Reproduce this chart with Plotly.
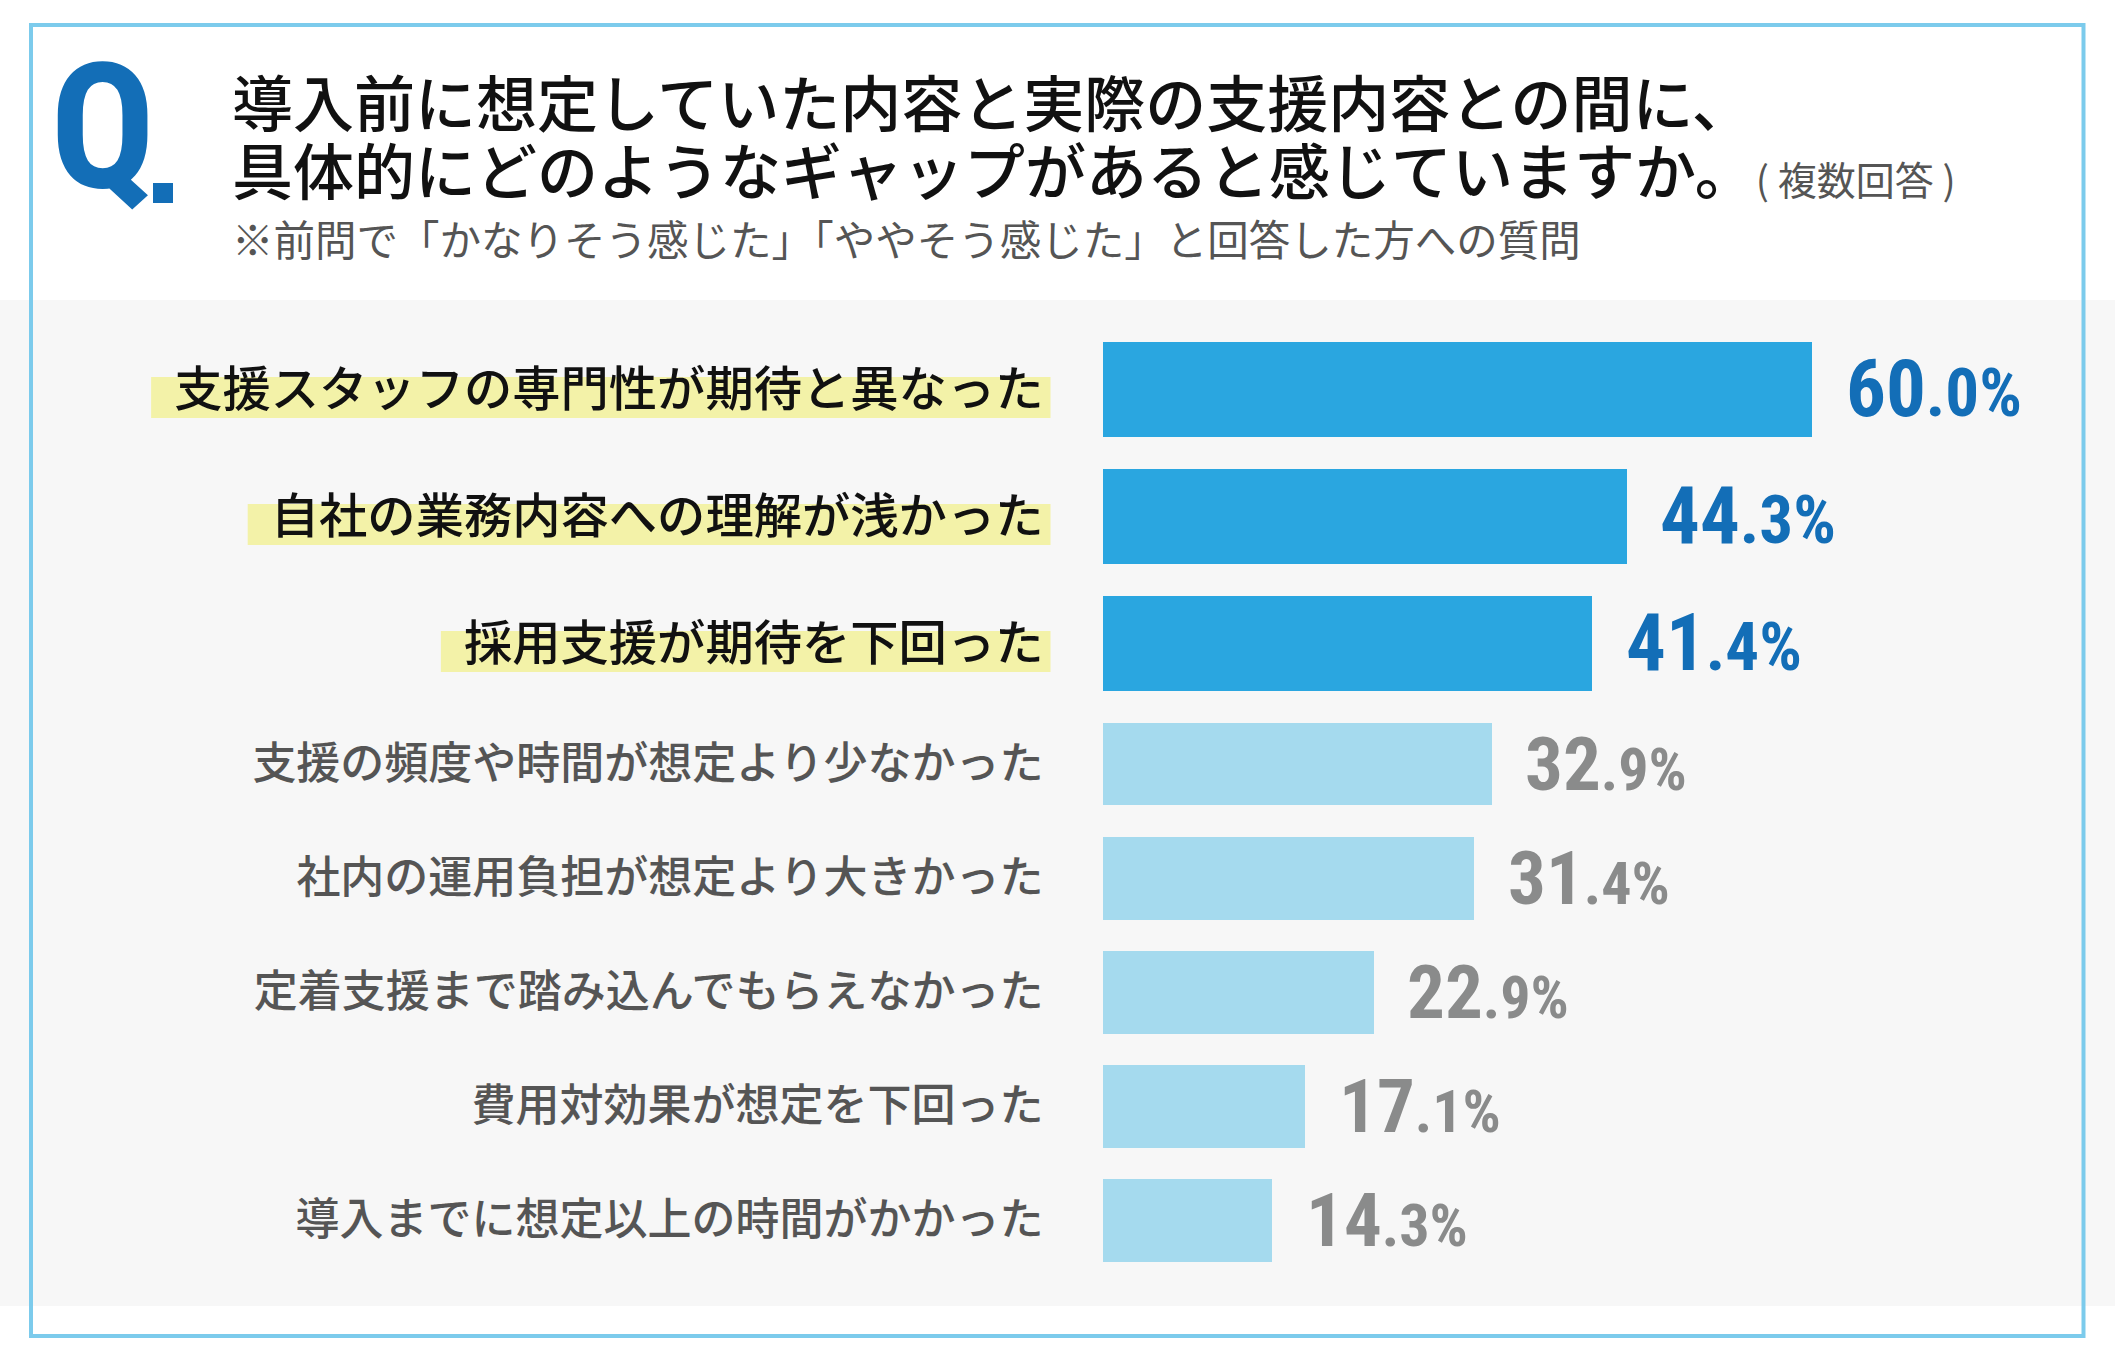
import plotly.graph_objects as go

# 導入前の想定と実際の支援内容とのギャップ（複数回答）

W, H = 2115, 1363

labels_top = [
    "支援スタッフの専門性が期待と異なった",
    "自社の業務内容への理解が浅かった",
    "採用支援が期待を下回った",
]
values_top = [60.0, 44.3, 41.4]

labels_rest = [
    "支援の頻度や時間が想定より少なかった",
    "社内の運用負担が想定より大きかった",
    "定着支援まで踏み込んでもらえなかった",
    "費用対効果が想定を下回った",
    "導入までに想定以上の時間がかかった",
]
values_rest = [32.9, 31.4, 22.9, 17.1, 14.3]

title_line1 = "導入前に想定していた内容と実際の支援内容との間に、"
title_line2 = "具体的にどのようなギャップがあると感じていますか。"
title_note = "( 複数回答 )"
subtitle = "※前問で「かなりそう感じた」「ややそう感じた」と回答した方への質問"

JP = "Noto Sans CJK JP, Noto Sans CJK SC, sans-serif"
NUM = "Roboto Condensed, Roboto, DejaVu Sans Condensed, sans-serif"

BLUE = "#2AA6E0"
LIGHT = "#A5DAEE"
DARK = "#136EB7"
GREY_NUM = "#8A8B8B"
GREY_TXT = "#555555"
HILITE = "#F3F2A8"


def fx(p):
    return p / W


def fy(p):
    return 1 - p / H


# layout in pixels
x_left = 1102.5
px_unit = 11.82
x_max = (W - x_left) / px_unit
top_y0, top_y1 = 325.5, 706.5
low_y1 = 1277.0

fig = go.Figure()
fig.add_trace(go.Bar(
    x=values_top, y=labels_top, orientation="h",
    marker=dict(color=BLUE, line_width=0), width=0.75,
    xaxis="x", yaxis="y", hoverinfo="skip"))
fig.add_trace(go.Bar(
    x=values_rest, y=labels_rest, orientation="h",
    marker=dict(color=LIGHT, line_width=0), width=0.726,
    xaxis="x2", yaxis="y2", hoverinfo="skip"))


def pct_text(v, big, small):
    whole, frac = f"{v:.1f}".split(".")
    return (f"<span style='font-size:{big}px'>{whole}</span>"
            f"<span style='font-size:{small}px'>.{frac}%</span>")


annotations = []
for lab, v in zip(labels_top, values_top):
    annotations.append(dict(
        x=v, y=lab, xref="x", yref="y", xanchor="left", yanchor="middle",
        xshift=32, text=pct_text(v, 79, 67), showarrow=False,
        font=dict(family=NUM, color=DARK, weight="bold")))
for lab, v in zip(labels_rest, values_rest):
    annotations.append(dict(
        x=v, y=lab, xref="x2", yref="y2", xanchor="left", yanchor="middle",
        xshift=32, text=pct_text(v, 75, 60), showarrow=False,
        font=dict(family=NUM, color=GREY_NUM, weight="bold")))

# Q mark and titles
annotations += [
    dict(x=fx(158), y=fy(128), xref="paper", yref="paper", text="Q",
         xanchor="right", yanchor="middle", showarrow=False,
         font=dict(family=NUM, size=175, color=DARK, weight="bold")),
    dict(x=fx(230), y=fy(101), xref="paper", yref="paper", text=title_line1,
         xanchor="left", yanchor="middle", showarrow=False,
         font=dict(family=JP, size=61, color="#111111", weight=500)),
    dict(x=fx(230), y=fy(169), xref="paper", yref="paper",
         text=title_line2
         + f"<span style='font-size:39px;color:{GREY_TXT};font-weight:400'>{title_note}</span>",
         xanchor="left", yanchor="middle", showarrow=False,
         font=dict(family=JP, size=61, color="#111111", weight=500)),
    dict(x=fx(230), y=fy(238), xref="paper", yref="paper", text=subtitle,
         xanchor="left", yanchor="middle", showarrow=False,
         font=dict(family=JP, size=41.5, color=GREY_TXT)),
]

shapes = [
    # grey band behind the chart
    dict(type="rect", xref="paper", yref="paper", x0=0, x1=1,
         y0=fy(1306), y1=fy(300), fillcolor="#F7F7F7", line_width=0, layer="below"),
    # outer frame
    dict(type="rect", xref="paper", yref="paper", x0=fx(31), x1=fx(2083.5),
         y0=fy(1336), y1=fy(25), line=dict(color="#7CCBEC", width=4),
         fillcolor="rgba(0,0,0,0)", layer="below"),
    # square dot of the "Q."
    dict(type="rect", xref="paper", yref="paper", x0=fx(153), x1=fx(173),
         y0=fy(203), y1=fy(183), fillcolor=DARK, line_width=0),
]

# marker-style highlight behind the first three labels
n = len(labels_top)
for i, lab in enumerate(labels_top):
    w = len(lab) * 48.3
    shapes.append(dict(
        type="rect", xref="paper", yref="y domain",
        x0=fx(x_left - 61 - w - 21), x1=fx(x_left - 52),
        y0=(n - 0.5 - (i + 0.228)) / n, y1=(n - 0.5 - (i - 0.094)) / n,
        fillcolor=HILITE, line_width=0, layer="below"))

fig.update_layout(
    width=W, height=H,
    margin=dict(l=0, r=0, t=0, b=0),
    paper_bgcolor="white", plot_bgcolor="rgba(0,0,0,0)",
    showlegend=False, bargap=0,
    xaxis=dict(domain=[fx(x_left), 1], range=[0, x_max], visible=False,
               anchor="y", fixedrange=True),
    xaxis2=dict(domain=[fx(x_left), 1], range=[0, x_max], visible=False,
                anchor="y2", fixedrange=True),
    yaxis=dict(domain=[fy(top_y1), fy(top_y0)], range=[len(labels_top) - 0.5, -0.5],
               anchor="x", showgrid=False, zeroline=False, showline=False, ticks="",
               ticklabelstandoff=58, fixedrange=True,
               tickfont=dict(family=JP, size=48.3, color="#111111", weight=500)),
    yaxis2=dict(domain=[fy(low_y1), fy(top_y1)], range=[len(labels_rest) - 0.5, -0.5],
                anchor="x2", showgrid=False, zeroline=False, showline=False, ticks="",
                ticklabelstandoff=58, fixedrange=True,
                tickfont=dict(family=JP, size=44, color=GREY_TXT, weight=500)),
    annotations=annotations,
    shapes=shapes,
)

# the page body has a default 8px margin; drop it so the figure sits at 0,0
fig.write_html("out.html", config={"displayModeBar": False},
               post_script="document.body.style.margin='0';")
